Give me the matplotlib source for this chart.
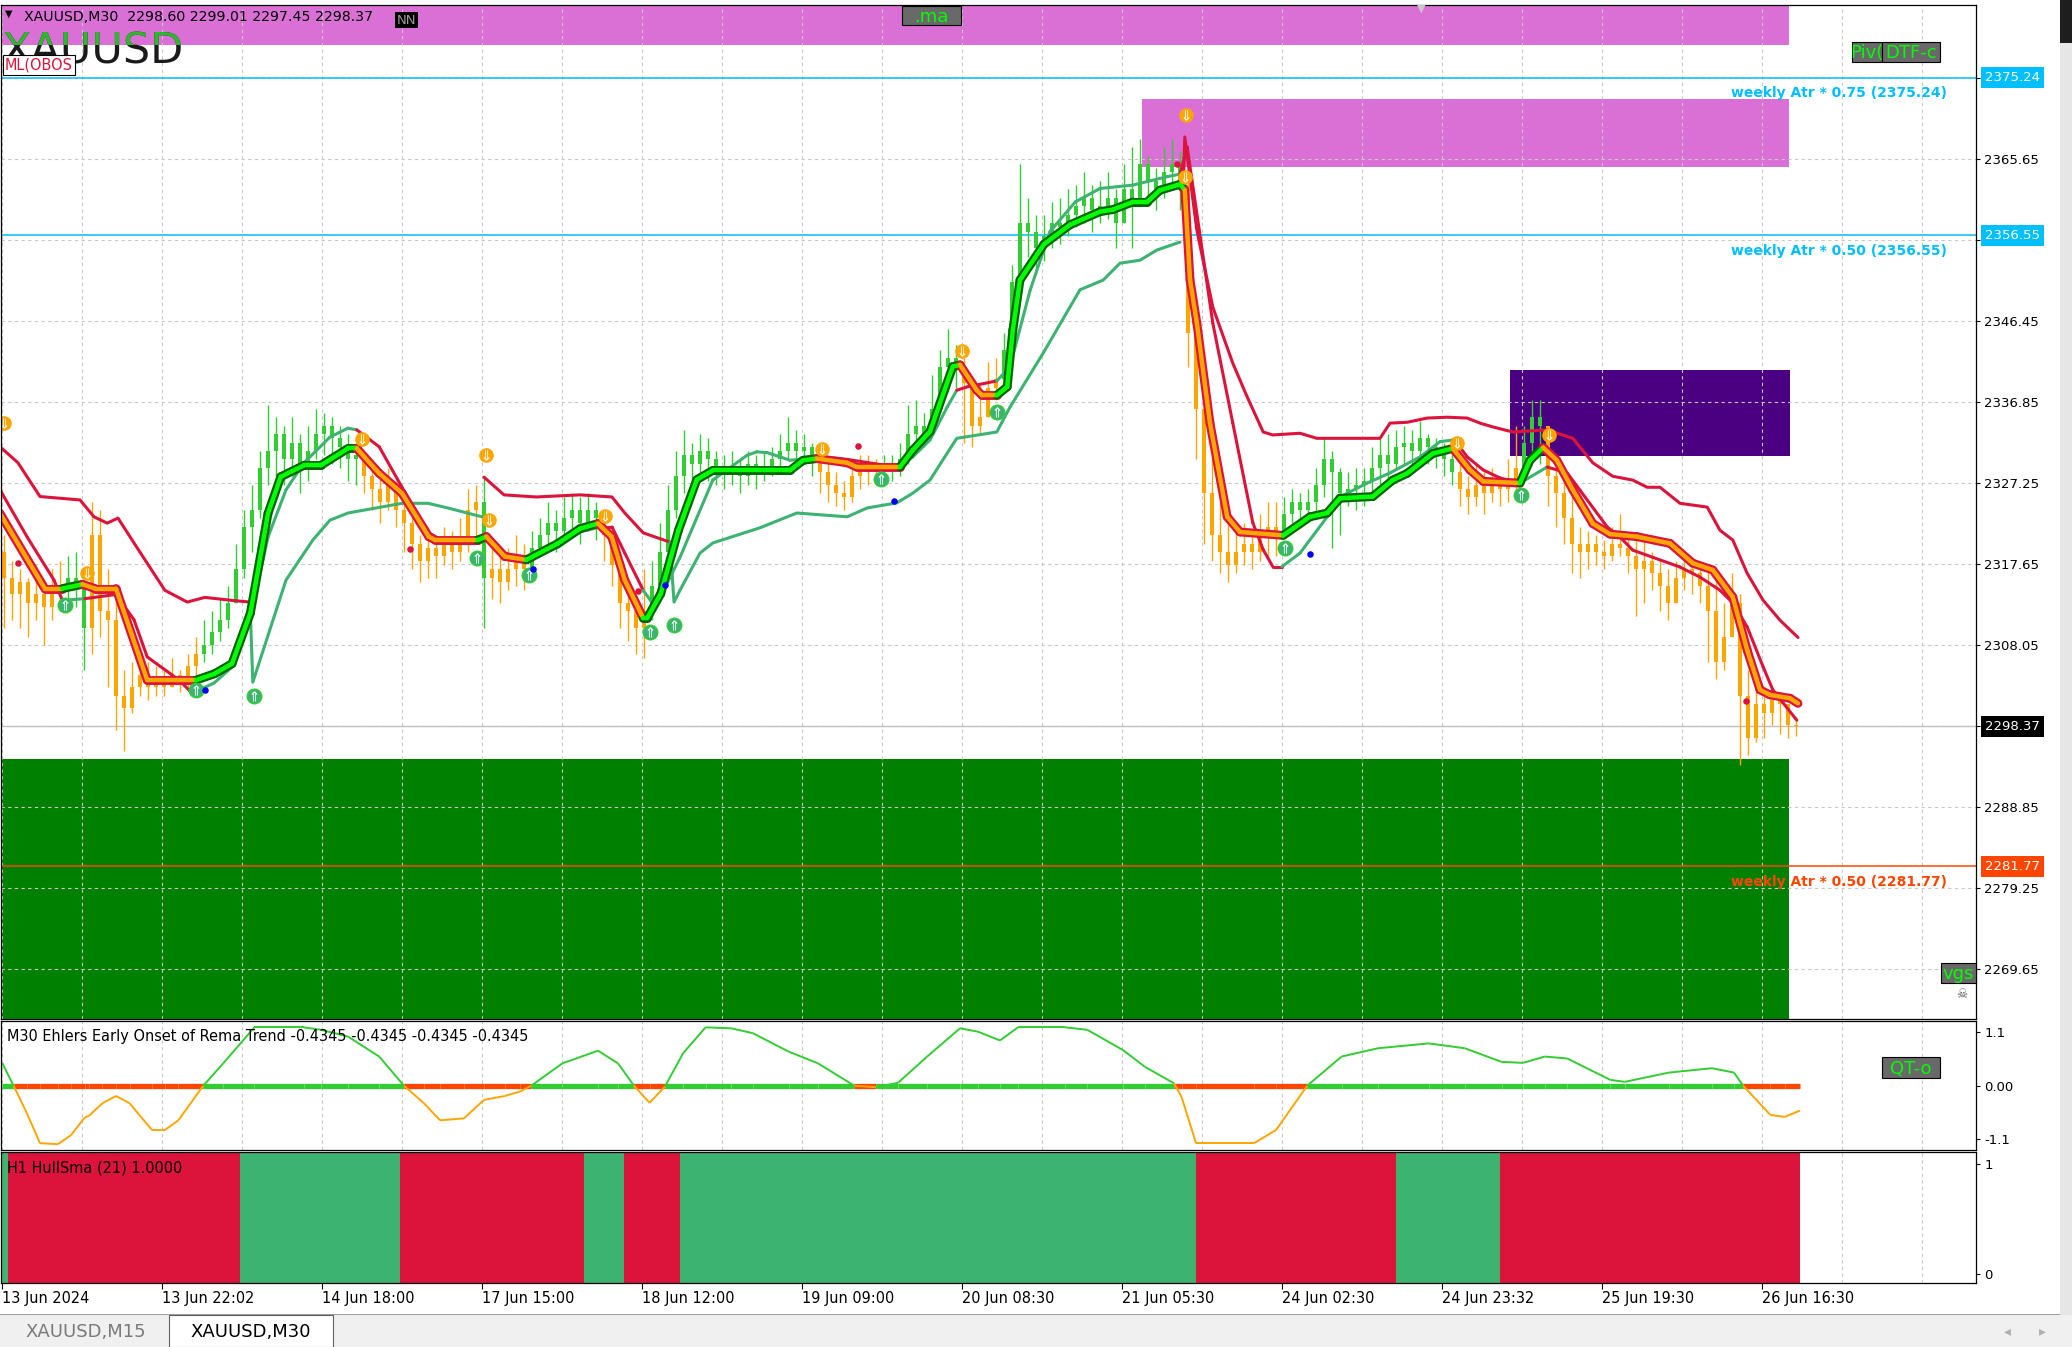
import numpy as np
import matplotlib
matplotlib.use("Agg")
import matplotlib.pyplot as plt
from matplotlib.collections import LineCollection
from matplotlib.patches import Rectangle
from matplotlib import font_manager

W, H = 2072, 1347

# hourly candles (x = candle number)
first_open = 2319.0
closes = [2316, 2314, 2315.5, 2313, 2314, 2312.5, 2314.5, 2315, 2316, 2315.5,
          2310, 2321, 2312, 2311, 2302, 2300.5, 2303, 2304.5, 2303, 2304,
          2303, 2304.5, 2303.5, 2305.5, 2307, 2308, 2309.5, 2311, 2313, 2317,
          2322, 2324, 2329, 2331, 2333, 2330, 2332, 2329, 2331, 2333,
          2334, 2332.5, 2331.5, 2330, 2330.5, 2328, 2326.5, 2325, 2327, 2324,
          2322.5, 2320, 2318, 2319.5, 2318.5, 2320, 2319, 2320.5, 2324, 2325,
          2316, 2317, 2315.5, 2317, 2318, 2317, 2319.5, 2321, 2322.5, 2321.5,
          2323, 2324, 2322.5, 2324, 2323, 2321, 2317.5, 2313, 2312, 2310,
          2312, 2315, 2319, 2324, 2328, 2330.5, 2329.5, 2331, 2330, 2329,
          2328.5, 2329, 2328, 2329.5, 2328.5, 2329, 2330, 2331, 2332, 2331,
          2331.5, 2330, 2328.5, 2327, 2326, 2325.5, 2328, 2329, 2328.5, 2329,
          2329.5, 2329, 2330, 2333, 2334, 2333, 2336, 2341, 2342, 2341,
          2339, 2334, 2335, 2338.5, 2339.5, 2343, 2351, 2358, 2357, 2355,
          2356.5, 2358, 2357.5, 2359, 2360, 2361, 2359.5, 2360, 2361, 2358,
          2362, 2360, 2365, 2363, 2362, 2364, 2365, 2362.5, 2345, 2336,
          2326, 2321, 2319, 2317.5, 2319, 2320, 2319, 2321, 2322, 2321.5,
          2323.5, 2325, 2324, 2325, 2327, 2330, 2328.5, 2326, 2326.5, 2327,
          2327.5, 2329, 2330.5, 2329.5, 2331.5, 2332, 2331, 2332.5, 2331.5, 2331,
          2330, 2328.5, 2326.5, 2325.5, 2327, 2326, 2327, 2326.5, 2327.5, 2329,
          2332, 2335, 2334, 2328, 2326, 2323, 2320, 2319, 2320, 2319,
          2318.5, 2320, 2319.5, 2318.5, 2317, 2318, 2316.5, 2315, 2313, 2316,
          2317, 2316.5, 2315, 2312, 2306, 2309, 2313, 2302, 2297, 2301,
          2300, 2301.5, 2301, 2298.5, 2298.37]
highs = [2321, 2318, 2317, 2316, 2317.5, 2315, 2317, 2318, 2318.5, 2319,
         2314, 2325, 2324, 2317, 2314, 2305, 2306, 2307, 2306, 2305.5,
         2305, 2306.5, 2305, 2307, 2309, 2311, 2312, 2313.5, 2315, 2320,
         2324, 2327, 2331, 2336.5, 2335, 2334, 2335, 2333, 2334, 2336,
         2335.5, 2335, 2334, 2333, 2332, 2331, 2329.5, 2328, 2329, 2327.5,
         2325, 2323, 2321, 2322, 2320.5, 2322, 2321.5, 2323, 2326.5, 2327,
         2328, 2320, 2319, 2319.5, 2321, 2320, 2321.5, 2323, 2325, 2324,
         2325.5, 2326, 2325.5, 2326, 2325, 2324, 2322, 2318, 2315, 2313,
         2317, 2318, 2322.5, 2327, 2331, 2333.5, 2332, 2333, 2332.5, 2331,
         2330.5, 2331, 2330, 2331, 2330.5, 2331, 2331.5, 2333, 2335, 2333.5,
         2333, 2332, 2331, 2330, 2328.5, 2327.5, 2330, 2330.5, 2330.5, 2330,
         2330.5, 2330.5, 2332, 2336.5, 2337, 2335.5, 2340, 2343, 2345.5, 2343.5,
         2342, 2338, 2339, 2341.5, 2342, 2345, 2353, 2365, 2361, 2359,
         2359, 2360.5, 2361, 2362, 2362.5, 2364, 2362.5, 2363, 2364, 2362,
         2365, 2367, 2368, 2366, 2364.5, 2367, 2368, 2366.5, 2363, 2346,
         2338, 2330, 2325, 2323, 2322, 2322.5, 2321, 2323.5, 2325, 2325,
         2325.5, 2326.5, 2326, 2326.5, 2329, 2332.5, 2331, 2329, 2328.5, 2329,
         2329, 2331.5, 2332.5, 2333, 2333.5, 2334, 2333.5, 2334.5, 2333, 2332.5,
         2332, 2331.5, 2329.5, 2328, 2329.5, 2328.5, 2329, 2328, 2330, 2334,
         2334, 2337, 2337, 2332, 2330, 2328.5, 2326, 2322, 2321.5, 2321,
         2320.5, 2322, 2323.5, 2321, 2320.5, 2321, 2319, 2318, 2317, 2318,
         2318.5, 2318, 2317, 2317, 2316, 2313, 2316.5, 2314, 2305, 2304.5,
         2303, 2303, 2302.5, 2300.5, 2299.5]
lows = [2310, 2311, 2310, 2309, 2311, 2308, 2311, 2312, 2313, 2312.5,
        2305, 2307, 2309, 2303, 2298, 2295.5, 2300, 2302, 2301.5, 2302,
        2302, 2303, 2302.5, 2303, 2304.5, 2306, 2307, 2308.5, 2310, 2313,
        2316, 2319, 2323, 2327, 2328, 2327, 2328, 2326, 2327.5, 2330,
        2330.5, 2329.5, 2329, 2327.5, 2327, 2326, 2324, 2322.5, 2324, 2322,
        2319, 2317, 2315.5, 2316, 2316, 2317.5, 2317, 2318, 2319, 2320,
        2310, 2313.5, 2313, 2314.5, 2315, 2314.5, 2317, 2318.5, 2320, 2319,
        2320.5, 2321, 2320, 2321.5, 2320.5, 2318, 2315, 2310, 2308.5, 2307,
        2306.5, 2311, 2314, 2318, 2323, 2326, 2327, 2328, 2327.5, 2327,
        2326.5, 2327, 2326, 2327, 2326.5, 2327.5, 2328, 2329, 2330, 2329,
        2329.5, 2328, 2326, 2325, 2324.5, 2324, 2325, 2326.5, 2327, 2327,
        2327.5, 2327.5, 2328, 2329.5, 2331, 2331.5, 2333, 2335.5, 2338, 2338.5,
        2332, 2331.5, 2333, 2336, 2337, 2338, 2341, 2350, 2354, 2352,
        2353.5, 2355, 2355.5, 2356.5, 2357.5, 2358, 2357, 2358, 2358.5, 2355,
        2359, 2355, 2361, 2360, 2359.5, 2361, 2362, 2359.5, 2341, 2330,
        2320, 2318, 2316.5, 2315.5, 2316.5, 2317.5, 2317, 2318, 2318.5, 2318.5,
        2321, 2322.5, 2322, 2323, 2323.5, 2325.5, 2319.5, 2321, 2324.5, 2324,
        2324.5, 2326, 2327, 2327.5, 2329, 2329.5, 2329, 2330, 2329.5, 2329,
        2328, 2327, 2324.5, 2323.5, 2324.5, 2323.5, 2325, 2324.5, 2325, 2325.5,
        2328.5, 2331, 2329.5, 2324.5, 2322, 2320, 2316.5, 2316, 2317, 2317.5,
        2317, 2318, 2318.5, 2316.5, 2311.5, 2313, 2314.5, 2312, 2311, 2313.5,
        2314.5, 2314, 2313, 2306, 2304, 2305, 2310, 2293.8, 2295, 2296.5,
        2297, 2298.5, 2297.5, 2297, 2297.2]

# candle numbers where the trend flips (chart starts in a down trend)
trend_switch = [7.3, 10.1, 24, 44.1, 59.5, 60.9, 65.6, 74.5, 80.1, 101.6,
                109.5, 119.5, 124.1, 147.4, 159.9, 181.1, 189.5, 192.4]

# thick trend line
trend_k = [-0.5, 5.1, 7.3, 9.8, 11.4, 14, 17.9, 24, 26.3, 28.5, 30.8, 33, 34.6, 37.5,
           39.6, 43, 44.1, 46.9, 49.75, 53.1, 53.9, 59.2, 60.3, 62.6, 65.3, 69.25, 72,
           74.25, 75.95, 77.6, 79.9, 80.4, 82.1, 84.3, 86.6, 88.6, 98.25, 99.9, 101.6,
           105.4, 106.6, 112, 113.6, 115.75, 118.6, 119.5, 121.6, 122.25, 124.1, 125.4,
           126.1, 127, 130, 133.25, 137, 138.6, 141.1, 142.9, 144.5, 147, 147.6, 148.25,
           149.1, 150.75, 152.9, 154.5, 159.9, 163.25, 165.4, 167, 171.1, 173.6, 175.4,
           178.6, 181.1, 183.25, 184.9, 189.5, 190.75, 192.4, 194.1, 196.1, 198.6,
           200.75, 204.1, 208.25, 211.1, 213.6, 216.1, 217.9, 219.5, 220.75, 223.25, 224.25]
trend_p = [2323.6, 2314.7, 2314.7, 2315.2, 2314.7, 2314.7, 2303.85, 2303.85, 2304.6,
           2305.8, 2311.8, 2323.6, 2327.95, 2329.3, 2329.3, 2331.3, 2331.3, 2328.35,
           2326.0, 2320.85, 2320.45, 2320.45, 2320.85, 2318.5, 2318.1, 2320.05, 2321.8,
           2322.4, 2320.85, 2315.7, 2311.2, 2311.2, 2314.1, 2321.6, 2327.6, 2328.7,
           2328.7, 2329.9, 2330.1, 2329.6, 2329.1, 2329.1, 2331.1, 2333.3, 2341.0,
           2341.2, 2338.2, 2337.6, 2337.6, 2338.6, 2345.3, 2351.25, 2355.5, 2357.8,
           2359.35, 2359.6, 2360.5, 2360.5, 2361.9, 2362.6, 2361.9, 2351.3, 2346.2,
           2334.3, 2323.2, 2321.4, 2321.0, 2323.2, 2323.65, 2325.4, 2325.6, 2327.55,
           2328.35, 2330.7, 2331.3, 2328.75, 2327.4, 2327.2, 2329.9, 2331.4, 2329.9,
           2326.4, 2322.4, 2321.15, 2320.85, 2320.05, 2317.7, 2316.9, 2313.7, 2307.4,
           2302.7, 2302.1, 2301.7, 2301.1]

# slower average drawn thin next to the trend line
slow_k = [-0.5, 2.9, 6.25, 7.3, 10.1, 14, 16.25, 17.9, 21.9, 23.5, 26.25, 28.5, 30.75,
          33, 35.25, 37.5, 40.75, 43, 44.1, 46.9, 49.75, 53.1, 55.25, 59.2, 60.3, 62.6,
          65.4, 69.25, 72, 74.5, 76, 77.6, 79.9, 81.4, 84.5, 88.6, 92.9, 94.1, 95.4, 97,
          98.25, 100.4, 101.6, 105.4, 109.5, 112, 113.6, 115.75, 117.9, 119.1, 120.4,
          124.1, 125.75, 128.25, 130.75, 133.9, 137, 141.1, 145.4, 147, 147.9, 151.1,
          153.6, 156.1, 157.4, 158.6, 159.75, 162, 165.4, 167, 170.4, 173.25, 177,
          179.5, 181.1, 181.6, 182.9, 184.9, 187, 189.5, 192.9, 195.4, 197, 200.4, 202,
          203.6, 206.1, 209.5, 212, 214.5, 216.1, 217.9, 219.9, 221.1, 224.1]
slow_p = [2326.4, 2320.8, 2315.7, 2313.3, 2313.5, 2314.0, 2311, 2306.6, 2303.85, 2302.3,
          2303.5, 2305.4, 2311, 2320.8, 2326.4, 2329.6, 2332.65, 2333.7, 2333.5, 2331.5,
          2326.7, 2321.3, 2320.1, 2320.1, 2320.5, 2318.9, 2318.1, 2319.6, 2321.4, 2322,
          2322, 2318.9, 2314.5, 2312.5, 2318.4, 2327.55, 2330.5, 2330.9, 2330.8, 2330.3,
          2329.9, 2330.1, 2330.4, 2330, 2329.4, 2329.3, 2330.3, 2332.3, 2336.2, 2338.2,
          2338.6, 2339.3, 2341, 2350, 2357, 2360.5, 2362.1, 2362.5, 2363.5, 2363.8,
          2367.0, 2346.15, 2334.3, 2322.5, 2319.3, 2317.3, 2317.3, 2318.9, 2323.2,
          2325.55, 2327.2, 2328.4, 2330.3, 2332.1, 2332.3, 2331.95, 2330.3, 2328.75,
          2327.8, 2327.2, 2329.1, 2328.4, 2326.35, 2322, 2320.8, 2319.25, 2318.4,
          2317.25, 2316.05, 2314.5, 2313, 2310.15, 2305.4, 2302.7, 2299.1]

# stop bands: crimson above price in down trends, green below in up trends
nan = np.nan
upper_k = [-0.5, 1.75, 4.5, 9.5, 11.25, 12.9, 14.25, 16.25, 20.1, 22.9, 25.1, 29, 30.75, nan,
           60, 62.5, 66.5, 72, 76, 77.6, 79.9, 83.25, nan,
           147.4, 147.6, 149.1, 151.1, 153.6, 155.4, 157.4, 158.6, 162, 164.1, 172, 173.25,
           175.4, 177.9, 180.4, 182.9, 184.5, 186.1, 188.6, 192.9, 196.1, 198.6, 201.1,
           203.6, 205.4, 207, 209.5, 212.9, 214.5, 216.1, 217.9, 219.9, 222, 224.25]
upper_p = [2331.5, 2329.6, 2325.6, 2325.2, 2323.2, 2322.45, 2323.05, 2320.1, 2314.5, 2313.1,
           2313.65, 2313.25, 2313.1, nan,
           2327.9, 2325.8, 2325.55, 2325.8, 2325.55, 2323.65, 2321.3, 2320.2, nan,
           2362, 2368.2, 2357.2, 2348.05, 2341.4, 2337.4, 2333.25, 2332.9, 2333.1, 2332.5,
           2332.5, 2334.3, 2334.4, 2334.9, 2335, 2334.9, 2334.3, 2333.85, 2333.25, 2333.5,
           2332.5, 2329.6, 2328, 2327.55, 2326.7, 2326.7, 2324.8, 2324.35, 2321.6, 2320.45,
           2316.5, 2313.3, 2310.95, 2308.9]
lower_k = [30.75, 31.1, 35.25, 38.6, 40.75, 43, 49.75, 53, 55.25, 59.75, nan,
           83.25, 83.75, 84.5, 87, 88.6, 94.5, 99.1, 105.4, 107.9, 111.6, 113.6, 115.75,
           117.9, 119.1, 124.1, 125.75, 129.9, 134.5, 137.4, 139.5, 142, 144.1, 147]
lower_p = [2313.1, 2303.6, 2315.7, 2320.45, 2322.8, 2323.65, 2324.8, 2324.8, 2324.3, 2323.2, nan,
           2320.2, 2313.1, 2314.5, 2318.9, 2320.1, 2321.9, 2323.65, 2323.2, 2324.25, 2324.85,
           2326, 2327.55, 2330.75, 2332.5, 2333.25, 2336.2, 2342.6, 2350.1, 2351.25, 2353.25,
           2353.6, 2354.8, 2355.75]

# arrow signals and dots
sell_k = [0.06, 10.4, 44.75, 60.25, 60.6, 75.1, 102.25, 119.75, 147.75, 147.6, 181.6, 193.1]
sell_p = [2334.3, 2316.55, 2332.4, 2330.5, 2322.8, 2323.3, 2331.2, 2342.85, 2370.8, 2363.45,
          2331.95, 2332.9]
buy_k = [7.6, 24, 31.25, 59.1, 65.6, 80.75, 83.75, 109.6, 124.1, 160.1, 189.6]
buy_p = [2312.75, 2302.7, 2301.95, 2318.3, 2316.3, 2309.55, 2310.4, 2327.7, 2335.6, 2319.5,
         2325.8]
red_k = [1.75, 50.75, 79.2, 106.75, 146.6, 217.75]
red_p = [2317.7, 2319.4, 2314.4, 2331.6, 2365.0, 2301.4]
blue_k = [25.1, 66.1, 82.6, 111.25, 163.25]
blue_p = [2302.7, 2317.0, 2315.1, 2325.05, 2318.8]

# supply / demand boxes
zone_start = [-0.5, 142.25, 188.25, -0.5]
zone_end = [223.1, 223.1, 223.25, 223.1]
zone_lo = [2379.1, 2364.7, 2330.4, 2250]
zone_hi = [2395, 2372.7, 2340.6, 2294.5]
zone_color = ['#DA70D6', '#DA70D6', '#4B0082', '#008000']

# weekly ATR levels
atr_levels = [2375.24, 2356.55, 2281.77]
atr_names = ['weekly Atr * 0.75 (2375.24)', 'weekly Atr * 0.50 (2356.55)',
             'weekly Atr * 0.50 (2281.77)']
atr_colors = ['#00BFFF', '#00BFFF', '#FF4500']
last_price = 2298.37

price_ticks = [2375.25, 2365.65, 2356.05, 2346.45, 2336.85, 2327.25, 2317.65, 2308.05,
               2298.45, 2288.85, 2279.25, 2269.65]
price_labels = ['', '2365.65', '', '2346.45', '2336.85', '2327.25', '2317.65', '2308.05',
                '', '2288.85', '2279.25', '2269.65']

time_ticks = [-0.25, 19.75, 39.75, 59.75, 79.75, 99.75, 119.75, 139.75, 159.75, 179.75,
              199.75, 219.75]
time_labels = ['13 Jun 2024', '13 Jun 22:02', '14 Jun 18:00', '17 Jun 15:00', '18 Jun 12:00',
               '19 Jun 09:00', '20 Jun 08:30', '21 Jun 05:30', '24 Jun 02:30', '24 Jun 23:32',
               '25 Jun 19:30', '26 Jun 16:30']

# Ehlers early onset oscillator
ehlers_k = [-0.2, 1.2, 2.85, 4.5, 6.75, 8.4, 10.1, 10.6, 12.3, 14, 15.7, 18.5, 20.1, 21.8,
            24.9, 27.4, 31.3, 37.45, 39.6, 43, 46.9, 50, 52.5, 54.5, 57.5, 60, 62.6, 64.5,
            65.9, 69.8, 74.25, 76.75, 78.75, 80.7, 82.6, 84.9, 87.7, 90.9, 93.6, 98.1,
            101.75, 106.3, 109, 111.75, 115.4, 119.5, 121.75, 124.5, 126.75, 132.6, 135.4,
            139.9, 142.6, 146.25, 147.2, 149, 156.25, 159, 162.9, 167.2, 171.75, 178.1,
            182.6, 187.2, 189.9, 192.6, 195.4, 200.8, 202.6, 208.1, 213.5, 216.25, 217.4,
            220.8, 222.6, 224.5]
ehlers_v = [0.46, 0, -0.56, -1.18, -1.2, -1.01, -0.65, -0.62, -0.36, -0.21, -0.36, -0.91,
            -0.91, -0.71, 0, 0.46, 1.2, 1.2, 1.15, 1.01, 0.6, 0, -0.36, -0.71, -0.67, -0.29,
            -0.21, -0.12, 0, 0.46, 0.72, 0.46, 0, -0.35, -0.02, 0.67, 1.2, 1.18, 1.08, 0.7,
            0.46, 0, -0.03, 0.06, 0.6, 1.18, 1.11, 0.93, 1.2, 1.2, 1.15, 0.73, 0.39, 0.05,
            -0.23, -1.18, -1.18, -0.91, 0, 0.6, 0.77, 0.87, 0.77, 0.49, 0.47, 0.6, 0.56,
            0.12, 0.08, 0.27, 0.36, 0.27, 0, -0.6, -0.64, -0.51]

# H1 HullSma colour blocks
hull_edges = [-0.25, 0.5, 29.5, 49.5, 72.5, 77.5, 84.5, 149, 174, 187, 224.5]
hull_up = [True, False, True, False, True, False, True, False, True, False]

GREEN = '#32CD32'
ORANGE = '#FFA500'
CRIMSON = '#DC143C'
TEAL = '#3CB371'

names = {f.name for f in font_manager.fontManager.ttflist}
NARROW = 'Liberation Sans Narrow' if 'Liberation Sans Narrow' in names else 'DejaVu Sans'
NS = 1.0 if NARROW != 'DejaVu Sans' else 0.87

plt.rcParams['font.family'] = 'DejaVu Sans'


def is_up(k):
    return np.searchsorted(trend_switch, k) % 2 == 1


def segments(xs, ys):
    pts = np.column_stack([xs, ys])
    return np.stack([pts[:-1], pts[1:]], axis=1), (pts[:-1, 0] + pts[1:, 0]) / 2


def box(x0, y0, x1, y1):
    return [x0 / W, 1 - y1 / H, (x1 - x0) / W, (y1 - y0) / H]


fig = plt.figure(figsize=(W / 100, H / 100), dpi=100)
ax = fig.add_axes(box(1, 5, 1976, 1019))
ax2 = fig.add_axes(box(1, 1021, 1976, 1150), sharex=ax)
ax3 = fig.add_axes(box(1, 1152, 1976, 1283), sharex=ax)

grid_kw = dict(color='#C8C8C8', lw=0.8, ls=(0, (3, 3)))
for a in (ax, ax2, ax3):
    for gx in np.arange(-0.25, 246, 10):
        a.axvline(gx, zorder=1, **grid_kw)
    for s in a.spines.values():
        s.set_linewidth(0.9)
        s.set_zorder(10)

# ---- main price window
for x0, x1, lo, hi, c in zip(zone_start, zone_end, zone_lo, zone_hi, zone_color):
    ax.add_patch(Rectangle((x0, lo), x1 - x0, hi - lo, color=c, lw=0, zorder=0.5))
for gy in price_ticks:
    ax.axhline(gy, zorder=1, **grid_kw)
ax.axhline(last_price, color='#C0C0C0', lw=1.0, zorder=1.5)
for lvl, name, c in zip(atr_levels, atr_names, atr_colors):
    ax.axhline(lvl, color=c, lw=1.1, zorder=2)
    ax.annotate(name, xy=(0.9853, lvl), xycoords=ax.get_yaxis_transform(), xytext=(0, -11),
                textcoords='offset points', ha='right', va='center', color=c,
                fontsize=10, fontweight='bold', zorder=9)

kk = np.arange(len(closes))
closes = np.array(closes)
opens = np.r_[first_open, closes[:-1]]
up = is_up(kk)
ccol = np.where(up, GREEN, ORANGE).tolist()
top = np.maximum.reduce([np.array(highs), opens, closes])
bot = np.minimum.reduce([np.array(lows), opens, closes])
ax.vlines(kk, bot, top, colors=ccol, lw=1.0, zorder=3)
ax.bar(kk, np.maximum(np.abs(closes - opens), 0.2), bottom=np.minimum(opens, closes),
       width=0.5, color=ccol, lw=0, zorder=3)

ax.plot(upper_k, upper_p, color=CRIMSON, lw=2.2, zorder=4, solid_capstyle='round')
ax.plot(lower_k, lower_p, color=TEAL, lw=2.2, zorder=4, solid_capstyle='round')

segs, mid = segments(slow_k, slow_p)
ax.add_collection(LineCollection(segs, colors=np.where(is_up(mid), TEAL, CRIMSON).tolist(),
                                 linewidths=2.2, capstyle='round', zorder=4))
segs, mid = segments(trend_k, trend_p)
tu = is_up(mid)
ax.add_collection(LineCollection(segs, colors=np.where(tu, '#006400', CRIMSON).tolist(),
                                 linewidths=6.4, capstyle='round', zorder=5))
ax.add_collection(LineCollection(segs, colors=np.where(tu, '#00FF00', ORANGE).tolist(),
                                 linewidths=3.2, capstyle='round', zorder=6))

ax.scatter(sell_k, sell_p, s=110, color=ORANGE, lw=0, zorder=7)
ax.scatter(sell_k, sell_p, s=55, marker=r'$\Downarrow$', color='white', lw=0, zorder=8)
ax.scatter(buy_k, buy_p, s=110, color=TEAL, edgecolor=GREEN, lw=1, zorder=7)
ax.scatter(buy_k, buy_p, s=55, marker=r'$\Uparrow$', color='white', lw=0, zorder=8)
ax.scatter(red_k, red_p, s=22, color=CRIMSON, lw=0, zorder=8)
ax.scatter(blue_k, blue_p, s=22, color='#0000FF', lw=0, zorder=8)

ax.set_xlim(-0.375, 246.5)
ax.set_ylim(2263.70, 2383.84)
ax.yaxis.tick_right()
ax.set_yticks(price_ticks)
ax.set_yticklabels(price_labels)
ax.tick_params(axis='y', direction='out', length=3, pad=3, labelsize=9.5)
ax.tick_params(axis='x', bottom=False, labelbottom=False)

tag_colors = ['#00BFFF', '#00BFFF', 'black', '#FF4500']
for lvl, c in zip([atr_levels[0], atr_levels[1], last_price, atr_levels[2]], tag_colors):
    ax.text(1.0045, lvl, f'{lvl:.2f}', transform=ax.get_yaxis_transform(), ha='left',
            va='center', color='white', fontsize=9.5, zorder=11, clip_on=False,
            bbox=dict(boxstyle='square,pad=0.3', fc=c, ec='none'))

# ---- Ehlers panel
ek = np.array(ehlers_k)
ev = np.array(ehlers_v)
segs, _ = segments(ek, ev)
midv = (ev[:-1] + ev[1:]) / 2
zsegs, _ = segments(ek, np.zeros_like(ek))
ax2.add_collection(LineCollection(zsegs, colors=np.where(midv > 0, GREEN, '#FF4500').tolist(),
                                  linewidths=3.8, capstyle='butt', zorder=3))
ax2.add_collection(LineCollection(segs, colors=np.where(midv > 0, GREEN, ORANGE).tolist(),
                                  linewidths=1.4, zorder=4))
ax2.set_ylim(-1.32, 1.33)
ax2.yaxis.tick_right()
ax2.set_yticks([1.1, 0, -1.1])
ax2.set_yticklabels(['1.1', '0.00', '-1.1'])
ax2.tick_params(axis='y', direction='out', length=3, pad=3, labelsize=9.5)
ax2.tick_params(axis='x', bottom=False, labelbottom=False)
ax2.text(0.003, 0.88, 'M30 Ehlers Early Onset of Rema Trend -0.4345 -0.4345 -0.4345 -0.4345',
         transform=ax2.transAxes, fontsize=12 * NS, family=NARROW, va='center', zorder=9)

# ---- HullSma panel
for i, u in enumerate(hull_up):
    ax3.axvspan(hull_edges[i], hull_edges[i + 1], color=TEAL if u else CRIMSON, lw=0, zorder=2)
ax3.set_ylim(-0.082, 1.109)
ax3.yaxis.tick_right()
ax3.set_yticks([1, 0])
ax3.set_yticklabels(['1', '0'])
ax3.tick_params(axis='y', direction='out', length=3, pad=3, labelsize=9.5)
ax3.set_xticks(time_ticks)
ax3.set_xticklabels(time_labels, ha='left', family=NARROW, fontsize=12 * NS)
ax3.tick_params(axis='x', direction='out', length=4, pad=2)
ax3.text(0.003, 0.88, 'H1 HullSma (21) 1.0000', transform=ax3.transAxes,
         fontsize=12 * NS, family=NARROW, va='center', zorder=9)


# ---- terminal decorations (pixel positions of the screenshot)
def ftext(x, y, s, **kw):
    return fig.text(x / W, 1 - y / H, s, **kw)


def label_box(x0, y0, x1, y1, s, size=12):
    r = Rectangle((x0 / W, 1 - y1 / H), (x1 - x0) / W, (y1 - y0) / H,
                  transform=fig.transFigure, fc='#696969', ec='black', lw=0.8, zorder=20)
    fig.patches.append(r)
    t = ftext((x0 + x1) / 2, (y0 + y1) / 2 + 1, s, fontsize=size, ha='center', va='center',
              color='#00FF00', zorder=21)
    t.set_clip_path(r)


ftext(5, 14, '\u25bc', fontsize=7, va='center')
ftext(24, 17, 'XAUUSD,M30  2298.60 2299.01 2297.45 2298.37', fontsize=11.7 * NS,
      family=NARROW, va='center')
ftext(397, 20, 'NN', fontsize=11 * NS, family=NARROW, va='center', color='#9A9A9A',
      bbox=dict(boxstyle='square,pad=0.15', fc='black', ec='none'))
ftext(2, 52, 'XAUUSD', fontsize=31, va='center', color='#1A1A1A', zorder=5)
green_part = ftext(2, 52, 'XAUUSD', fontsize=31, va='center', color='#2DB82D', zorder=6)
green_part.set_clip_path(Rectangle((0, 1 - 45 / H), 1, 40 / H, transform=fig.transFigure))
ftext(5, 65, 'ML(OBOS', fontsize=12 * NS, family=NARROW, va='center', color=CRIMSON, zorder=7,
      bbox=dict(boxstyle='square,pad=0.15', fc='white', ec='black', lw=0.8))
label_box(902, 6, 961, 25, '.ma', 13)
ftext(1421, 9, '\u25bc', fontsize=8, va='center', ha='center', color='#C8C8C8')
label_box(1852, 42, 1882, 62, 'Piv(', 13)
label_box(1882, 42, 1940, 62, 'DTF-c', 13)
label_box(1941, 963, 1976, 983, 'vgs', 13)
label_box(1882, 1057, 1940, 1078, 'QT-o', 13)
ftext(1962, 995, '\u2620', fontsize=9, va='center', ha='center', color='#606060')

# tab bar and scroll strip
fig.patches.append(Rectangle((0, 0), 1, 32 / H, transform=fig.transFigure, fc='#F0F0F0',
                             ec='none', zorder=0))
fig.patches.append(Rectangle((0, 32 / H), 1, 1.5 / H, transform=fig.transFigure,
                             fc='#A0A0A0', ec='none', zorder=0))
fig.patches.append(Rectangle((169 / W, 0), 164 / W, 32 / H, transform=fig.transFigure,
                             fc='white', ec='#606060', lw=0.8, zorder=1))
fig.patches.append(Rectangle((2060 / W, 32 / H), 12 / W, 1 - 75 / H, transform=fig.transFigure,
                             fc='#E6E6E6', ec='none', zorder=0))
fig.patches.append(Rectangle((2060 / W, 1 - 43 / H), 12 / W, 43 / H, transform=fig.transFigure,
                             fc='#1E1E1E', ec='none', zorder=0))
ftext(86, 1332, 'XAUUSD,M15', fontsize=13, ha='center', va='center', color='#7A7A7A')
ftext(251, 1332, 'XAUUSD,M30', fontsize=13, ha='center', va='center', color='black')
ftext(2007, 1331, '\u25c2', fontsize=10, ha='center', va='center', color='#B0B0B0')
ftext(2042, 1331, '\u25b8', fontsize=10, ha='center', va='center', color='#B0B0B0')

fig.savefig('out.png', dpi=100, facecolor='white')
